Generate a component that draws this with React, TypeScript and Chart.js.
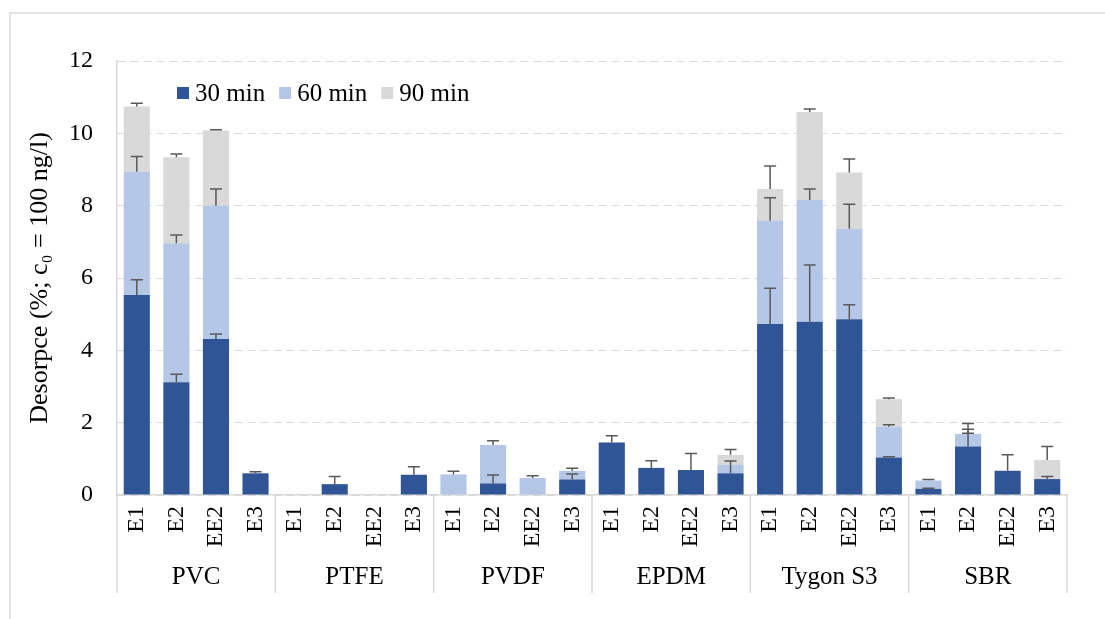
import React, { useEffect, useRef } from "react";
import { Chart, registerables } from "chart.js";

Chart.register(...registerables);

const groups = ["PVC", "PTFE", "PVDF", "EPDM", "Tygon S3", "SBR"];
const samples = ["E1", "E2", "EE2", "E3"];
const seriesNames = ["30 min", "60 min", "90 min"];
const seriesColors = ["#2F5597", "#B4C7E7", "#D9D9D9"];

const min30 = [5.53, 3.12, 4.31, 0.6, 0, 0.3, 0, 0.56, 0, 0.32, 0, 0.43, 1.45, 0.75, 0.69, 0.6, 4.73, 4.79, 4.86, 1.04, 0.17, 1.34, 0.67, 0.44];
const min60 = [3.41, 3.84, 3.69, 0, 0, 0, 0, 0, 0.57, 1.06, 0.47, 0.24, 0, 0, 0, 0.23, 2.85, 3.37, 2.5, 0.85, 0.23, 0.35, 0, 0];
const min90 = [1.8, 2.38, 2.08, 0, 0, 0, 0, 0, 0, 0, 0, 0, 0, 0, 0, 0.28, 0.88, 2.43, 1.56, 0.76, 0, 0, 0, 0.53];

const err30 = [0.42, 0.22, 0.14, 0.04, 0, 0.21, 0, 0.22, 0, 0.23, 0, 0.15, 0.19, 0.2, 0.46, 0.34, 0.99, 1.57, 0.4, 0.02, 0.02, 0.37, 0.44, 0.07];
const err60 = [0.42, 0.23, 0.46, 0, 0, 0, 0, 0, 0.09, 0.12, 0.06, 0.07, 0, 0, 0, 0, 0.64, 0.3, 0.68, 0.05, 0.03, 0.29, 0, 0];
const err90 = [0.09, 0.09, 0.02, 0, 0, 0, 0, 0, 0, 0, 0, 0, 0, 0, 0, 0.15, 0.64, 0.08, 0.37, 0.03, 0, 0.13, 0, 0.37];

const yTicks = [0, 2, 4, 6, 8, 10, 12];
const yTitle = "Desorpce (%; c\u2080 = 100 ng/l)";

const FONT = "'Liberation Serif', 'Times New Roman', serif";

export default function App() {
  const ref = useRef<HTMLCanvasElement | null>(null);

  useEffect(() => {
    document.body.style.margin = "0";
    const canvas = ref.current;
    if (!canvas) return;

    const labels: string[] = [];
    groups.forEach(() => samples.forEach((s) => labels.push(s)));
    const values = [min30, min60, min90];
    const errors = [err30, err60, err90];

    const errorBars = {
      id: "errorBars",
      afterDatasetsDraw(chart: any) {
        const ctx = chart.ctx;
        const xs = chart.scales.x;
        const ys = chart.scales.y;
        ctx.save();
        ctx.strokeStyle = "#595959";
        ctx.lineWidth = 1.5;
        for (let j = 0; j < labels.length; j++) {
          let cum = 0;
          for (let i = 0; i < values.length; i++) {
            cum += values[i][j];
            const e = errors[i][j];
            if (e > 0) {
              const x = xs.getPixelForValue(j);
              const y0 = ys.getPixelForValue(cum);
              const y1 = ys.getPixelForValue(cum + e);
              ctx.beginPath();
              ctx.moveTo(x, y0);
              ctx.lineTo(x, y1);
              ctx.moveTo(x - 6, y1);
              ctx.lineTo(x + 6, y1);
              ctx.stroke();
            }
          }
        }
        ctx.restore();
      },
    };

    const groupAxis = {
      id: "groupAxis",
      afterDraw(chart: any) {
        const ctx = chart.ctx;
        const xs = chart.scales.x;
        const bottom = chart.chartArea.bottom;
        const step = xs.getPixelForValue(1) - xs.getPixelForValue(0);
        ctx.save();
        ctx.strokeStyle = "#D9D9D9";
        ctx.lineWidth = 1.5;
        for (let g = 0; g <= groups.length; g++) {
          const x = xs.getPixelForValue(g * samples.length) - step / 2;
          ctx.beginPath();
          ctx.moveTo(x, bottom);
          ctx.lineTo(x, bottom + 98);
          ctx.stroke();
        }
        ctx.fillStyle = "#000";
        ctx.font = `25px ${FONT}`;
        ctx.textAlign = "center";
        ctx.textBaseline = "middle";
        groups.forEach((g, gi) => {
          const x0 = xs.getPixelForValue(gi * samples.length) - step / 2;
          const x1 = x0 + step * samples.length;
          ctx.fillText(g, (x0 + x1) / 2, bottom + 82);
        });
        ctx.restore();
      },
    };

    const customLegend = {
      id: "customLegend",
      afterDraw(chart: any) {
        const ctx = chart.ctx;
        ctx.save();
        ctx.font = `25px ${FONT}`;
        ctx.textBaseline = "middle";
        ctx.textAlign = "left";
        let x = 177;
        const yc = 93;
        chart.data.datasets.forEach((ds: any) => {
          ctx.fillStyle = ds.backgroundColor;
          ctx.fillRect(x, yc - 6, 12, 12);
          ctx.fillStyle = "#000";
          ctx.fillText(ds.label, x + 18, yc + 1);
          x += 18 + ctx.measureText(ds.label).width + 14;
        });
        ctx.restore();
      },
    };

    const chart = new Chart(canvas, {
      type: "bar",
      data: {
        labels,
        datasets: seriesNames.map((name, i) => ({
          label: name,
          data: values[i],
          backgroundColor: seriesColors[i],
          borderWidth: 0,
          barPercentage: 0.66,
          categoryPercentage: 1,
          stack: "s",
        })),
      },
      options: {
        responsive: false,
        animation: false,
        layout: { padding: { left: 0, top: 61, right: 38, bottom: 0 } },
        plugins: {
          legend: { display: false },
          tooltip: { enabled: false },
        },
        scales: {
          x: {
            stacked: true,
            grid: { display: false, drawTicks: false },
            border: { display: true, color: "#D9D9D9", width: 1.5 },
            ticks: {
              autoSkip: false,
              minRotation: 90,
              maxRotation: 90,
              padding: 11,
              color: "#000",
              font: { family: FONT, size: 24 },
            },
            afterFit(scale: any) {
              scale.height = 124;
            },
          },
          y: {
            stacked: true,
            min: 0,
            max: 12,
            afterBuildTicks(scale: any) {
              scale.ticks = yTicks.map((v) => ({ value: v }));
            },
            grid: {
              color: "#D9D9D9",
              lineWidth: 1,
              drawTicks: false,
            },
            border: { display: true, color: "#D9D9D9", width: 1.5, dash: [8, 5] },
            ticks: {
              padding: 24,
              color: "#000",
              font: { family: FONT, size: 24 },
            },
            title: {
              display: true,
              text: yTitle,
              color: "#000",
              font: { family: FONT, size: 26 },
              padding: { top: 25, bottom: 0 },
            },
            afterFit(scale: any) {
              scale.width = 117;
            },
          },
        },
      },
      plugins: [errorBars, groupAxis, customLegend],
    });

    return () => chart.destroy();
  }, []);

  return (
    <div style={{ position: "relative", width: 1105, height: 619, background: "#fff" }}>
      <div
        style={{
          position: "absolute",
          left: 9,
          top: 12,
          right: 0,
          bottom: 0,
          borderTop: "2px solid #E3E3E3",
          borderLeft: "2px solid #E3E3E3",
        }}
      />
      <canvas ref={ref} width={1105} height={619} style={{ position: "absolute", left: 0, top: 0 }} />
    </div>
  );
}
